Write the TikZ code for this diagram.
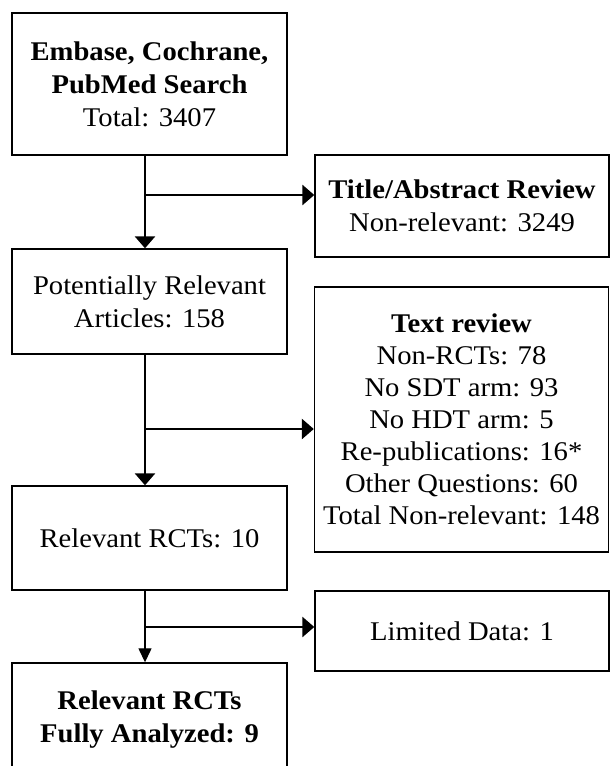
\documentclass[tikz,border=0pt]{standalone}
\usepackage{fontspec}
\setmainfont[FakeStretch=1.06]{Liberation Serif}
\usetikzlibrary{arrows.meta}

\begin{document}
\begin{tikzpicture}
	[x=1pt,y=-1pt,
	box/.style = {
		draw, line width=1.4pt, fill=white, align=center, inner sep=0pt,
		font=\fontsize{27}{33}\selectfont
	},
	leftbox/.style = {
		box, minimum width=275pt
	},
	rightbox/.style = {
		box, minimum width=294pt
	},
	wire/.style = {
		line width=2.8pt, -{Triangle[length=12pt,width=20pt]}
	},
	thinwire/.style = {
		line width=1.3pt, -{Triangle[length=14pt,width=13pt]}
	}]
	
	\useasboundingbox (0,0) rectangle (610,766);
	
	%Draw nodes
	\node[leftbox, minimum height=142pt] at (149.5,84) (search)
		{\textbf{Embase, Cochrane,}\\ \textbf{PubMed Search}\\ Total: 3407};
	\node[rightbox, minimum height=102pt] at (462,206) (titlerev)
		{\textbf{Title/Abstract Review}\\ Non-relevant: 3249};
	\node[leftbox, minimum height=105pt] at (149.5,301.5) (potential)
		{Potentially Relevant\\ Articles: 158};
	\node[rightbox, minimum height=265pt] at (461.5,419.5) (textrev)
		{\textbf{Text review}\\[-1pt] Non-RCTs: 78\\[-1pt] No SDT arm: 93\\[-1pt] No HDT arm: 5\\[-1pt]
		Re-publications: 16*\\[-1pt] Other Questions: 60\\[-1pt] Total Non-relevant: 148};
	\node[leftbox, minimum height=104pt] at (149.5,538) (rcts)
		{Relevant RCTs: 10};
	\node[rightbox, minimum height=80pt] at (462,631) (limited)
		{Limited Data: 1};
	\node[leftbox, minimum height=114pt] at (149.5,720) (analyzed)
		{\textbf{Relevant RCTs}\\ \textbf{Fully Analyzed: 9}};
	
	\coordinate (br1) at (145,195);
	\coordinate (br2) at (145,429);
	\coordinate (br3) at (145,627);
	
	%Draw wires
	\draw[wire] (br1 |- search.south) -- (br1 |- potential.north);
	\draw[wire] (br1) -- (br1 -| titlerev.west);
	
	\draw[wire] (br2 |- potential.south) -- (br2 |- rcts.north);
	\draw[wire] (br2) -- (br2 -| textrev.west);
	
	\draw[thinwire] (br3 |- rcts.south) -- (br3 |- analyzed.north);
	\draw[wire] (br3) -- (br3 -| limited.west);
	
\end{tikzpicture}
\end{document}
